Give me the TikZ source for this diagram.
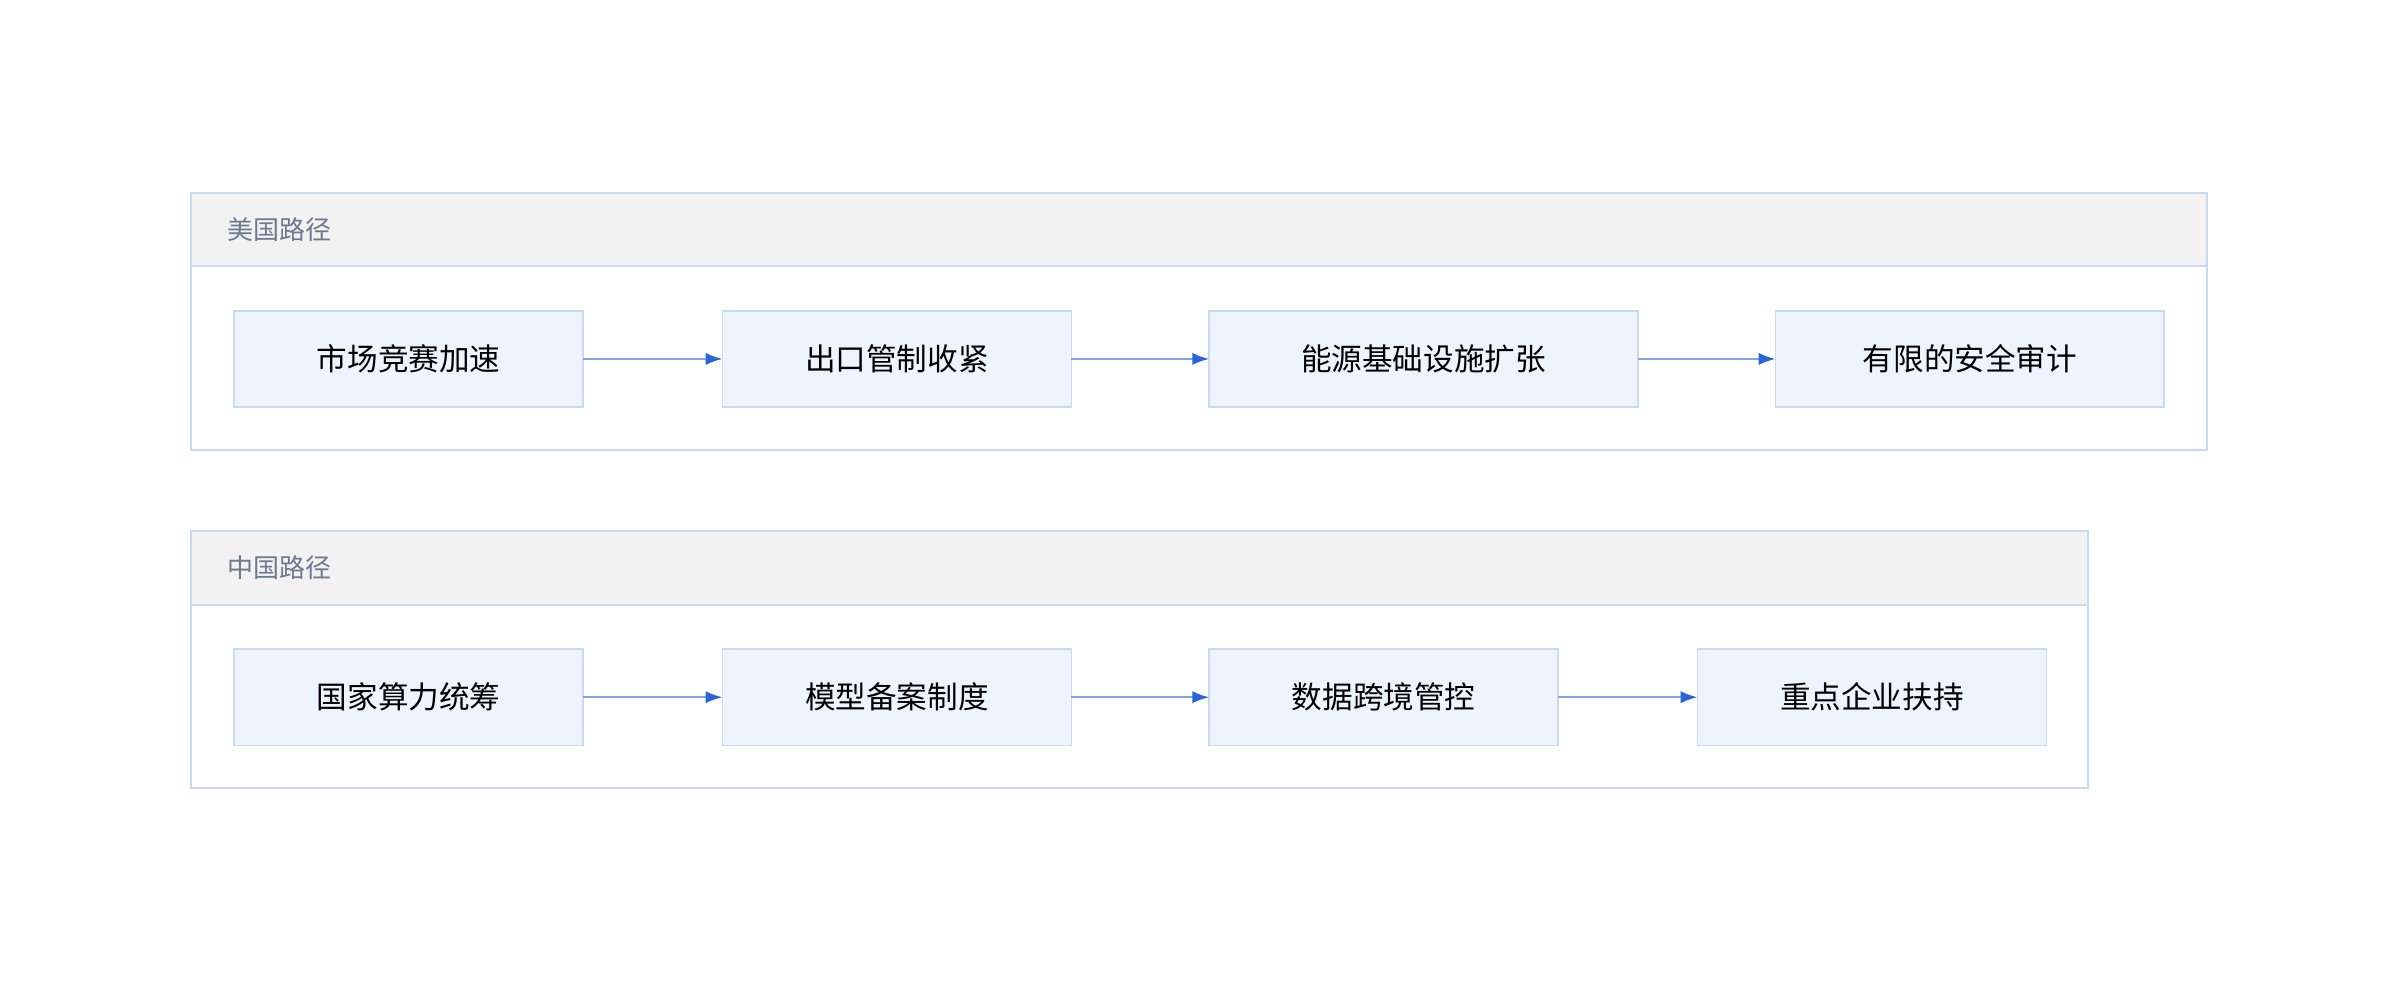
\documentclass[tikz,border=0pt]{standalone}
\usepackage{fontspec}
\setmainfont{Noto Sans CJK SC}
\usetikzlibrary{arrows.meta}
\definecolor{bd}{HTML}{C9D9F2}
\definecolor{nf}{HTML}{EEF4FD}
\definecolor{hd}{HTML}{F2F2F2}
\definecolor{tt}{HTML}{6B7A90}
\definecolor{ar}{HTML}{2B63D9}
\definecolor{al}{HTML}{7FA4EA}
\begin{document}
\begin{tikzpicture}[x=1pt,y=-1pt,
 box/.style={draw=bd,line width=1.2pt,fill=nf},
 grp/.style={draw=bd,line width=1.4pt},
 hdr/.style={draw=bd,line width=1.4pt,fill=hd},
 lbl/.style={font=\fontsize{20}{24}\selectfont,text=black},
 ttl/.style={font=\fontsize{17}{20}\selectfont,text=tt,anchor=west},
 arr/.style={draw=al,line width=1.3pt,-{Latex[length=11pt,width=8pt,color=ar]}}]
\useasboundingbox (0,0) rectangle (1568,641);
% US group
\draw[grp] (125,126) rectangle (1442,294);
\draw[hdr] (125,126) rectangle (1442,174);
\node[ttl] (t1) at (145,150) {美国路径};
\draw[box] (153,203) rectangle (381,266); \node[lbl] (a1) at (267,234.5) {市场竞赛加速};
\draw[box] (472,203) rectangle (700,266); \node[lbl] (a2) at (586,234.5) {出口管制收紧};
\draw[box] (790,203) rectangle (1070,266); \node[lbl] (a3) at (930,234.5) {能源基础设施扩张};
\draw[box] (1160,203) rectangle (1414,266); \node[lbl] (a4) at (1287,234.5) {有限的安全审计};
\coordinate (a1r) at (381,234.5); \coordinate (a2l) at (472,234.5);
\coordinate (a2r) at (700,234.5); \coordinate (a3l) at (790,234.5);
\coordinate (a3r) at (1070,234.5); \coordinate (a4l) at (1160,234.5);
\draw[arr] (a1r) -- (a2l); \draw[arr] (a2r) -- (a3l); \draw[arr] (a3r) -- (a4l);
% China group
\draw[grp] (125,347) rectangle (1364,515);
\draw[hdr] (125,347) rectangle (1364,395);
\node[ttl] (t2) at (145,371) {中国路径};
\draw[box] (153,424) rectangle (381,487); \node[lbl] (b1) at (267,455.5) {国家算力统筹};
\draw[box] (472,424) rectangle (700,487); \node[lbl] (b2) at (586,455.5) {模型备案制度};
\draw[box] (790,424) rectangle (1018,487); \node[lbl] (b3) at (904,455.5) {数据跨境管控};
\draw[box] (1109,424) rectangle (1337,487); \node[lbl] (b4) at (1223,455.5) {重点企业扶持};
\coordinate (b1r) at (381,455.5); \coordinate (b2l) at (472,455.5);
\coordinate (b2r) at (700,455.5); \coordinate (b3l) at (790,455.5);
\coordinate (b3r) at (1018,455.5); \coordinate (b4l) at (1109,455.5);
\draw[arr] (b1r) -- (b2l); \draw[arr] (b2r) -- (b3l); \draw[arr] (b3r) -- (b4l);
\end{tikzpicture}
\end{document}
